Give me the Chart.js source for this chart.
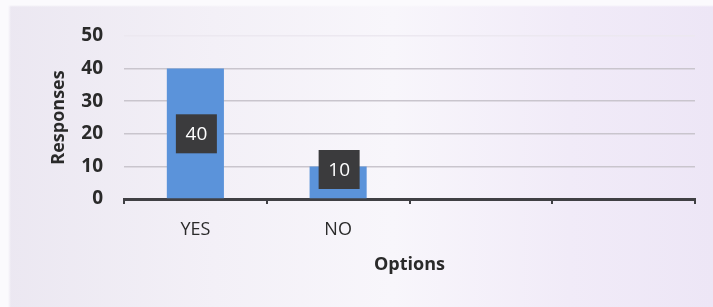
<!DOCTYPE html>
<html>
<head>
<meta charset="utf-8">
<script src="https://cdn.jsdelivr.net/npm/chart.js@4"></script>
<style>
    html, body { margin: 0; padding: 0; }
    body {
        width: 713px; height: 307px; overflow: hidden;
        background:
            linear-gradient(180deg, #fbfafd 0px, #fbfafd 5px, rgba(255,255,255,0) 7px),
            linear-gradient(90deg, #fbfafd 0px, #fbfafd 8px, rgba(255,255,255,0) 11px),
            linear-gradient(90deg, #ebe7f1 0%, #f3f0f7 30%, #f8f6fb 55%, #f1ebf8 80%, #ede6f6 100%);
    }
    #wrap { position: relative; width: 713px; height: 307px; }
</style>
</head>
<body>
<div id="wrap"><canvas id="optionsChart" width="713" height="307"></canvas></div>
<script>
    // values
    const categories = ['YES', 'NO', '', ''];
    const responses = [40, 10, null, null];
    const yTicks = [0, 10, 20, 30, 40, 50];

    // dark boxes with the value, like the excel data labels
    const valueBoxes = {
        id: 'valueBoxes',
        afterDatasetsDraw(chart) {
            const ctx = chart.ctx;
            const meta = chart.getDatasetMeta(0);
            const base = chart.scales.y.getPixelForValue(0);
            meta.data.forEach((bar, i) => {
                const v = responses[i];
                if (v === null) return;
                const w = 41, h = 39;
                let cy = (bar.y + base) / 2;
                cy = Math.min(cy, base - 10 - h / 2);
                ctx.save();
                ctx.fillStyle = '#3b3b3d';
                ctx.fillRect(bar.x - w / 2 + 1, cy - h / 2, w, h);
                ctx.fillStyle = '#ffffff';
                ctx.font = '19px "Open Sans", sans-serif';
                ctx.textAlign = 'center';
                ctx.textBaseline = 'middle';
                ctx.fillText(String(v), bar.x + 1, cy + 1);
                ctx.restore();
            });
        }
    };

    new Chart(document.getElementById('optionsChart'), {
        type: 'bar',
        data: {
            labels: categories,
            datasets: [{
                label: 'Responses',
                data: responses,
                backgroundColor: '#5b93da',
                categoryPercentage: 1,
                barPercentage: 0.4
            }]
        },
        options: {
            responsive: false,
            animation: false,
            layout: { padding: { top: 36, right: 18, left: 0, bottom: 0 } },
            plugins: { legend: { display: false }, tooltip: { enabled: false } },
            scales: {
                x: {
                    border: { color: '#404044', width: 3 },
                    grid: { drawOnChartArea: false, drawTicks: true, tickLength: 5, color: '#404044', lineWidth: 2 },
                    ticks: { color: '#2a2a2a', font: { family: 'Open Sans', size: 18 }, padding: 15 },
                    title: {
                        display: true, text: 'Options', color: '#2a2a2a',
                        font: { family: 'Open Sans', size: 18, weight: 'bold' },
                        padding: { top: 0, bottom: 31 }
                    },
                    afterFit(scale) { scale.height = 108; }
                },
                y: {
                    min: 0, max: 50,
                    afterBuildTicks(scale) { scale.ticks = yTicks.map(v => ({ value: v })); },
                    border: { display: false },
                    grid: {
                        drawTicks: false,
                        color: ctx => ctx.tick && ctx.tick.value === 0 ? 'rgba(0,0,0,0)' : (ctx.tick && ctx.tick.value === 50 ? '#ece8f0' : '#c9c5cd'),
                        lineWidth: 1.5
                    },
                    ticks: { color: '#2a2a2a', font: { family: 'Open Sans', size: 19, weight: 'bold' }, padding: 21 },
                    title: {
                        display: true, text: 'Responses', color: '#2a2a2a',
                        font: { family: 'Open Sans', size: 18, weight: 'bold' },
                        padding: { top: 48, bottom: 0 }
                    },
                    afterFit(scale) { scale.width = 124; }
                }
            }
        },
        plugins: [valueBoxes]
    });
</script>
</body>
</html>
